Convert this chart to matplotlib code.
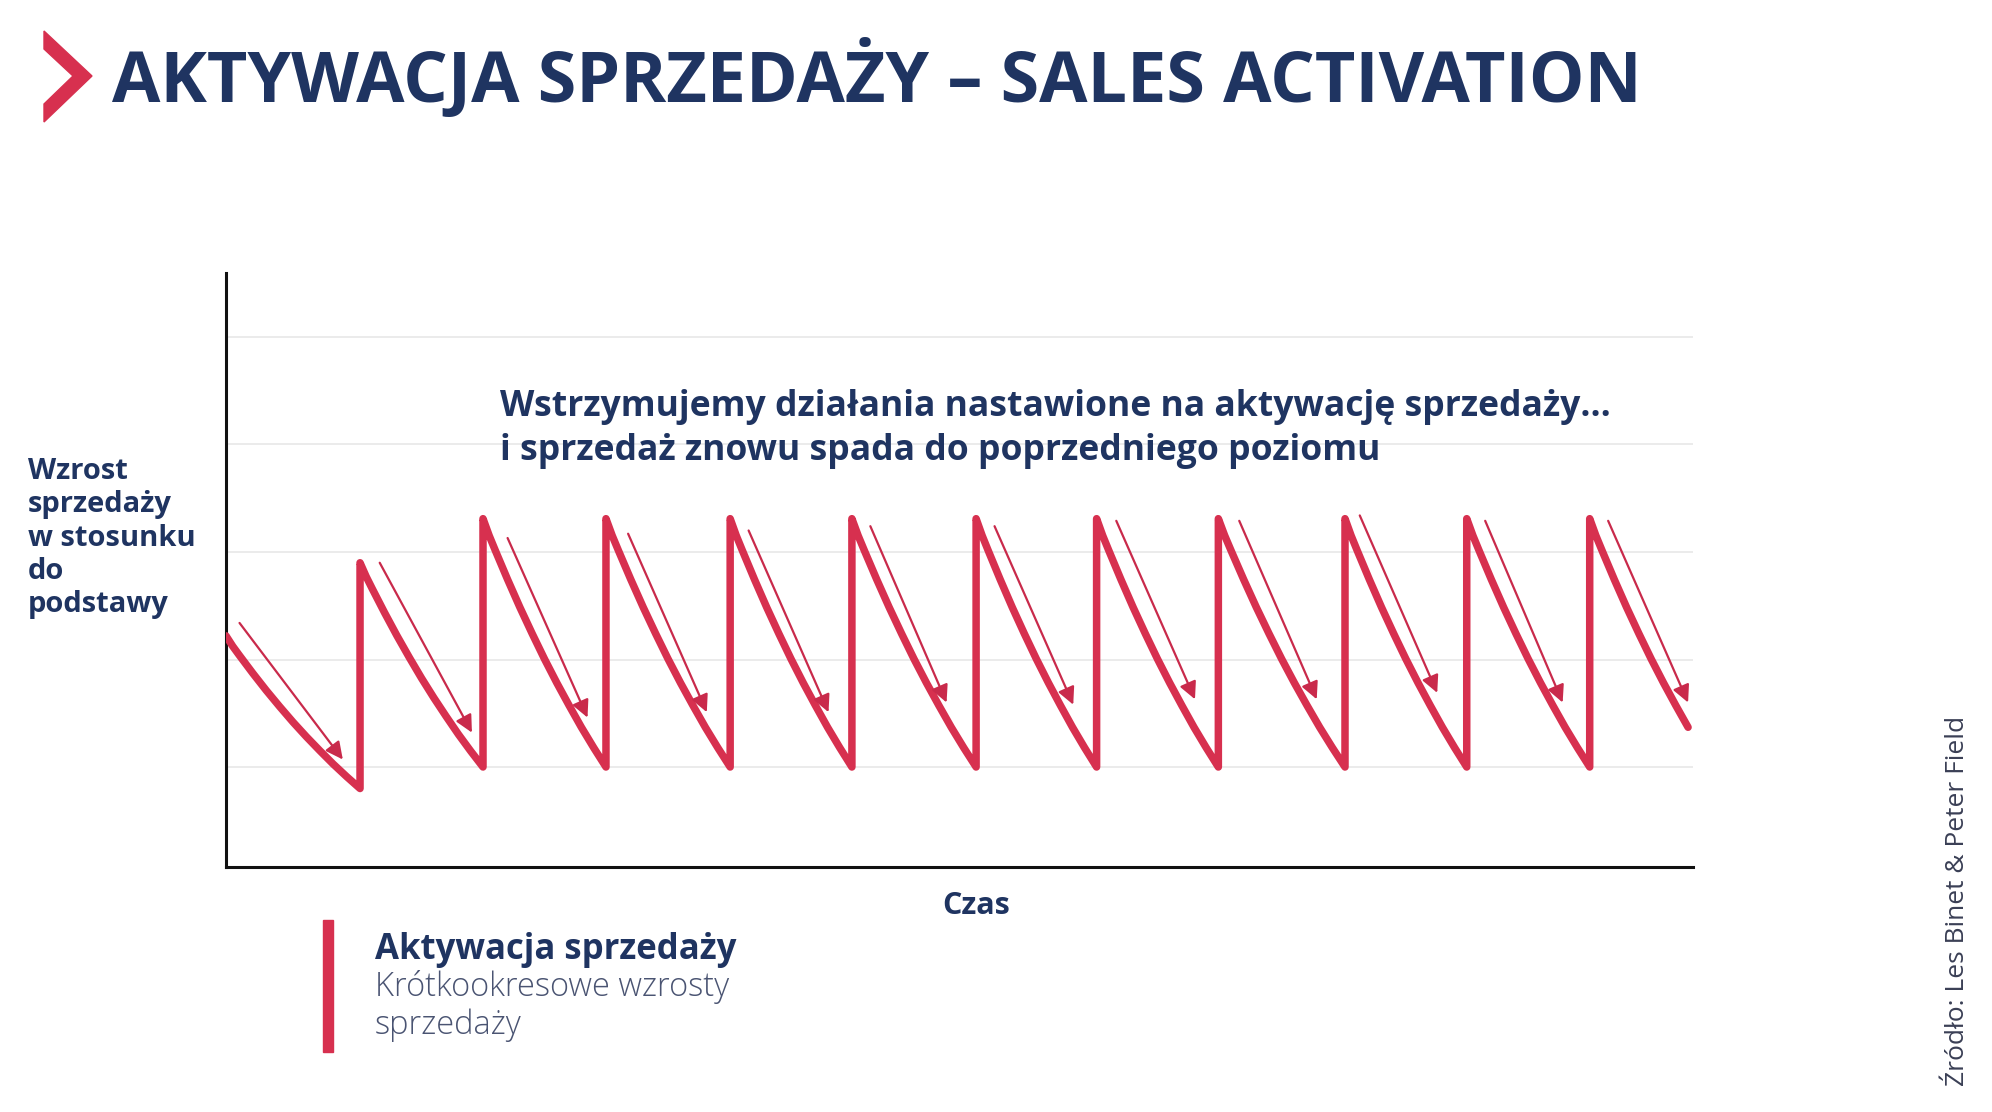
import numpy as np
import matplotlib.pyplot as plt
from matplotlib.patches import Polygon, Rectangle

plt.ioff()

# --- data (time in campaign periods, sales index) ---
start_time = 0.0
start_level = 2.22
first_trough = 0.80
jump_times = [1.09, 2.09, 3.09, 4.10, 5.09, 6.10, 7.08, 8.07, 9.10, 10.09, 11.09]
peak_levels = [2.90, 3.31, 3.31, 3.31, 3.31, 3.31, 3.31, 3.31, 3.31, 3.31, 3.31]
trough_levels = [1.0, 1.0, 1.0, 1.0, 1.0, 1.0, 1.0, 1.0, 1.0, 1.0, 1.0]
end_time = 11.89

# shape of one decay (share of period elapsed -> share of drop done)
decay_t = [0, 0.05, 0.1, 0.2, 0.3, 0.4, 0.5, 0.6, 0.7, 0.8, 0.9, 1.0]
decay_frac = [0, 0.068, 0.128, 0.245, 0.357, 0.463, 0.565, 0.661, 0.752, 0.84, 0.922, 1.0]

# thin arrows next to each decay
arrow_t0 = [0.11, 1.25, 2.29, 3.27, 4.25, 5.24, 6.25, 7.24, 8.24, 9.22, 10.24, 11.24]
arrow_v0 = [2.34, 2.90, 3.13, 3.17, 3.20, 3.24, 3.24, 3.29, 3.29, 3.34, 3.29, 3.29]
arrow_t1 = [0.95, 2.00, 2.94, 3.91, 4.90, 5.86, 6.89, 7.88, 8.87, 9.85, 10.87, 11.89]
arrow_v1 = [1.07, 1.32, 1.46, 1.51, 1.51, 1.60, 1.58, 1.63, 1.63, 1.69, 1.60, 1.60]

grid_levels = [1, 2, 3, 4, 5]

title = "AKTYWACJA SPRZEDAŻY – SALES ACTIVATION"
note = "Wstrzymujemy działania nastawione na aktywację sprzedaży…\ni sprzedaż znowu spada do poprzedniego poziomu"
ylabel = "Wzrost\nsprzedaży\nw stosunku\ndo\npodstawy"
xlabel = "Czas"
legend_title = "Aktywacja sprzedaży"
legend_sub = "Krótkookresowe wzrosty\nsprzedaży"
source = "Źródło: Les Binet & Peter Field"

navy = "#1f3461"
red = "#d7304f"
arrow_red = "#c92a4b"

plt.rcParams['font.family'] = ['Open Sans', 'DejaVu Sans']

# --- build the saw-tooth line ---
dt = np.array(decay_t)
df = np.array(decay_frac)
xs = list(start_time + dt * (jump_times[0] - start_time))
ys = list(start_level - df * (start_level - first_trough))
for k in range(len(jump_times)):
    t0 = jump_times[k]
    t1 = jump_times[k + 1] if k + 1 < len(jump_times) else t0 + 1.0
    seg_t = t0 + dt * (t1 - t0)
    seg_v = peak_levels[k] - df * (peak_levels[k] - trough_levels[k])
    keep = seg_t <= end_time + 1e-9
    xs += list(seg_t[keep])
    ys += list(seg_v[keep])

fig = plt.figure(figsize=(19.92, 11.12), dpi=100)
ax = fig.add_axes([226 / 1992, 1 - 867 / 1112, 1467 / 1992, 594 / 1112])
ax.set_xlim(0, 11.93)
ax.set_ylim(0.07, 5.595)

for g in grid_levels:
    ax.axhline(g, color="#ebebeb", lw=1.4, zorder=0)

ax.plot(xs, ys, color=red, lw=5.4, solid_joinstyle="round", solid_capstyle="round", zorder=3)

for a, b, c, d in zip(arrow_t0, arrow_v0, arrow_t1, arrow_v1):
    ax.annotate("", xy=(c, d), xytext=(a, b),
                arrowprops=dict(arrowstyle="-|>", color=arrow_red, lw=1.6,
                                mutation_scale=26, shrinkA=0, shrinkB=0),
                zorder=4)

for s in ["top", "right"]:
    ax.spines[s].set_visible(False)
for s in ["left", "bottom"]:
    ax.spines[s].set_linewidth(2.2)
    ax.spines[s].set_color("#111111")
ax.set_xticks([])
ax.set_yticks([])

# --- texts ---
chevron = Polygon([(44 / 1992, 1 - 31 / 1112), (92 / 1992, 1 - 76 / 1112), (44 / 1992, 1 - 122 / 1112),
                   (44 / 1992, 1 - 104 / 1112), (73 / 1992, 1 - 76 / 1112), (44 / 1992, 1 - 49 / 1112)],
                  closed=True, transform=fig.transFigure, color=red)
fig.patches.append(chevron)
fig.text(112 / 1992, 1 - 102 / 1112, title, fontsize=50.5, fontweight="bold", color=navy, va="baseline")

fig.text(500 / 1992, 1 - 460 / 1112, note, fontsize=25.6, fontweight="bold",
         color=navy, va="baseline", linespacing=1.3)

fig.text(28 / 1992, 1 - 538 / 1112, ylabel, fontsize=21, fontweight="bold", color=navy,
         va="center", ha="left", linespacing=1.2)
fig.text(976 / 1992, 1 - 906 / 1112, xlabel, fontsize=22, fontweight="bold", color=navy,
         va="center", ha="center")

fig.patches.append(Rectangle((323 / 1992, 1 - 1052 / 1112), 10 / 1992, 132 / 1112,
                             transform=fig.transFigure, color=red))
fig.text(375 / 1992, 1 - 950 / 1112, legend_title, fontsize=25, fontweight="bold", color=navy, va="center")
fig.text(375 / 1992, 1 - 1006 / 1112, legend_sub, fontsize=23.5, fontweight="light", color="#4a5472",
         va="center", linespacing=1.2)

fig.text(1957 / 1992, 1 - 901 / 1112, source, fontsize=19, color="#3a3f55", rotation=90,
         va="center", ha="center")

fig.savefig("out.png", dpi=100)
plt.close(fig)
